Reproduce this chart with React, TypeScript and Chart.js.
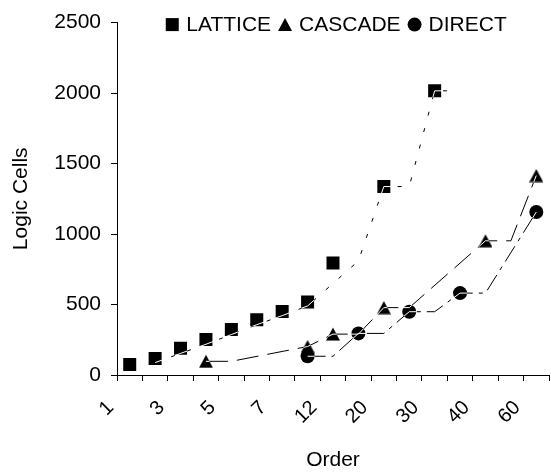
import React, { useEffect, useRef } from 'react';
import { Chart, registerables } from 'chart.js';

Chart.register(...registerables);

const FONT = '"Liberation Sans", Arial, sans-serif';

// ---- data -------------------------------------------------------------
const categories = ['1', '2', '3', '4', '5', '6', '7', '8', '12', '16', '20', '25', '30', '35', '40', '50', '60'];
const yTicks = [0, 500, 1000, 1500, 2000, 2500];
const seriesNames = ['LATTICE', 'CASCADE', 'DIRECT'];

// marker values per category (null = no marker)
const latticeValues = [75, 117, 190, 252, 322, 392, 450, 518, 795, null, 1337, null, 2016, null, null, null, null];
const cascadeValues = [null, null, null, 97, null, null, null, 202, 290, null, 478, null, null, null, 952, null, 1415];
const directValues = [null, null, null, null, null, null, null, 133, null, 295, null, 449, null, 581, null, null, 1156];

// connecting line vertices (category position, value)
const latticeLinePos = [1, 2, 3, 4, 5, 6, 7, 9, 10, 11, 12, 13];
const latticeLineValues = [88, 153, 218, 287, 357, 421, 490, 809, 1337, 1337, 2016, 2016];
const cascadeLinePos = [3, 4, 7, 8, 9, 10, 11, 14, 15, 16];
const cascadeLineValues = [97, 97, 202, 290, 290, 478, 478, 952, 952, 1415];
const directLinePos = [7, 8, 9, 10, 11, 12, 13, 14, 16];
const directLineValues = [133, 133, 295, 295, 449, 449, 581, 581, 1156];

const toXY = (pos: number[], vals: number[]) => pos.map((p, i) => ({ x: p, y: vals[i] }));

function makeTriangle(): HTMLCanvasElement {
  const c = document.createElement('canvas');
  c.width = 14;
  c.height = 14;
  const g = c.getContext('2d')!;
  g.fillStyle = '#000';
  g.beginPath();
  g.moveTo(0, 13.5);
  g.lineTo(7, 0.5);
  g.lineTo(14, 13.5);
  g.closePath();
  g.fill();
  return c;
}

function drawLegendMarker(ctx: CanvasRenderingContext2D, shape: string, cx: number, cy: number) {
  ctx.beginPath();
  if (shape === 'rect') {
    ctx.rect(cx - 6.5, cy - 6.5, 13, 13);
  } else if (shape === 'triangle') {
    ctx.moveTo(cx - 7, cy + 6.5);
    ctx.lineTo(cx, cy - 6.5);
    ctx.lineTo(cx + 7, cy + 6.5);
    ctx.closePath();
  } else {
    ctx.arc(cx, cy, 7, 0, Math.PI * 2);
  }
  ctx.fill();
}

const compositePlugin = {
  id: 'compositeDraw',
  beforeDatasetDraw(chart: any, args: any) {
    const ds: any = chart.data.datasets[args.index];
    if (ds.composite) {
      chart.ctx.save();
      chart.ctx.globalCompositeOperation = ds.composite;
    }
  },
  afterDatasetDraw(chart: any, args: any) {
    const ds: any = chart.data.datasets[args.index];
    if (ds.composite) chart.ctx.restore();
  },
};

const legendShapes = ['rect', 'triangle', 'circle'];

const legendPlugin = {
  id: 'topLegend',
  afterDraw(chart: any) {
    const ctx: CanvasRenderingContext2D = chart.ctx;
    const area = chart.chartArea;
    ctx.save();
    ctx.font = `21px ${FONT}`;
    ctx.fillStyle = '#000';
    ctx.textBaseline = 'middle';
    ctx.textAlign = 'left';
    const mW = 14;
    const gapMT = 7;
    const gapTM = 7;
    const widths = seriesNames.map((n) => ctx.measureText(n).width);
    const total =
      widths.reduce((a, b) => a + b, 0) + seriesNames.length * (mW + gapMT) + (seriesNames.length - 1) * gapTM;
    let x = (area.left + area.right) / 2 + 3 - total / 2;
    const y = area.top + 2;
    seriesNames.forEach((n, i) => {
      drawLegendMarker(ctx, legendShapes[i], x + mW / 2, y);
      x += mW + gapMT;
      ctx.fillText(n, x, y + 1);
      x += widths[i] + gapTM;
    });
    ctx.restore();
  },
};

export default function App() {
  const ref = useRef<HTMLCanvasElement | null>(null);

  useEffect(() => {
    if (!ref.current) return;
    Chart.defaults.font.family = FONT;
    Chart.defaults.font.size = 21;
    Chart.defaults.color = '#000';
    const tri = makeTriangle();

    const lineDefs = [
      { pos: latticeLinePos, vals: latticeLineValues, dash: [4, 13] },
      { pos: cascadeLinePos, vals: cascadeLineValues, dash: [22, 9] },
      { pos: directLinePos, vals: directLineValues, dash: [18, 6, 4, 6] },
    ];

    const markerDatasets: any[] = [
      { label: seriesNames[0], data: latticeValues, pointStyle: 'rect', pointRadius: 9.2 },
      { label: seriesNames[1], data: cascadeValues, pointStyle: tri, pointRadius: 7 },
      { label: seriesNames[2], data: directValues, pointStyle: 'circle', pointRadius: 7 },
    ].map((d) => ({
      ...d,
      type: 'line',
      showLine: false,
      xAxisID: 'x',
      yAxisID: 'y',
      backgroundColor: '#000',
      borderColor: '#000',
      pointBackgroundColor: '#000',
      pointBorderWidth: 0,
      order: 3,
    }));

    const whiteLines: any[] = lineDefs.map((l, i) => ({
      label: seriesNames[i] + ' inner',
      type: 'line',
      data: toXY(l.pos, l.vals),
      xAxisID: 'x2',
      yAxisID: 'y',
      borderColor: '#fff',
      borderWidth: 1,
      pointRadius: 0,
      tension: 0,
      fill: false,
      composite: 'source-atop',
      order: 2,
    }));

    const dashedLines: any[] = lineDefs.map((l, i) => ({
      label: seriesNames[i] + ' line',
      type: 'line',
      data: toXY(l.pos, l.vals),
      xAxisID: 'x2',
      yAxisID: 'y',
      borderColor: '#000',
      borderWidth: 1,
      borderDash: l.dash,
      pointRadius: 0,
      tension: 0,
      fill: false,
      composite: 'destination-over',
      order: 1,
    }));

    const chart = new Chart(ref.current, {
      type: 'line',
      data: {
        labels: categories,
        datasets: [...markerDatasets, ...whiteLines, ...dashedLines],
      },
      options: {
        responsive: false,
        animation: false,
        devicePixelRatio: 1,
        layout: { autoPadding: false, padding: { top: 17, right: 2, bottom: 0, left: 0 } },
        plugins: {
          legend: { display: false },
          tooltip: { enabled: false },
        },
        scales: {
          x: {
            type: 'category',
            offset: true,
            grid: {
              offset: true,
              drawOnChartArea: false,
              drawTicks: true,
              tickLength: 6,
              color: '#000',
            },
            border: { color: '#000', width: 1 },
            ticks: {
              autoSkip: false,
              minRotation: 45,
              maxRotation: 45,
              labelOffset: -19,
              padding: 15,
              color: '#000',
              font: { size: 20 },
              callback: (_v: any, i: number) => (i % 2 === 0 ? categories[i] : ''),
            },
            title: {
              display: true,
              text: 'Order',
              color: '#000',
              font: { size: 21 },
              padding: { top: 0, bottom: 2 },
            },
            afterFit: (s: any) => {
              s.height = 100;
              s.paddingLeft = 0;
              s.paddingRight = 0;
            },
          },
          x2: {
            type: 'linear',
            display: false,
            min: -0.5,
            max: categories.length - 0.5,
          },
          y: {
            type: 'linear',
            min: yTicks[0],
            max: yTicks[yTicks.length - 1],
            grid: {
              drawOnChartArea: false,
              drawTicks: true,
              tickLength: 6,
              color: '#000',
            },
            border: { color: '#000', width: 1 },
            ticks: {
              color: '#000',
              font: { size: 21 },
              padding: 10,
              callback: (v: any) => String(v),
            },
            afterBuildTicks: (s: any) => {
              s.ticks = yTicks.map((v) => ({ value: v }));
            },
            title: {
              display: true,
              text: 'Logic Cells',
              color: '#000',
              font: { size: 21 },
              padding: { top: 9, bottom: 0 },
            },
            afterFit: (s: any) => {
              s.width = 117;
            },
          },
        },
      } as any,
      plugins: [compositePlugin, legendPlugin],
    });

    return () => chart.destroy();
  }, []);

  return (
    <div style={{ position: 'absolute', left: 0, top: 0, width: 551, height: 475 }}>
      <canvas ref={ref} width={551} height={475} style={{ width: 551, height: 475, display: 'block' }} />
    </div>
  );
}
